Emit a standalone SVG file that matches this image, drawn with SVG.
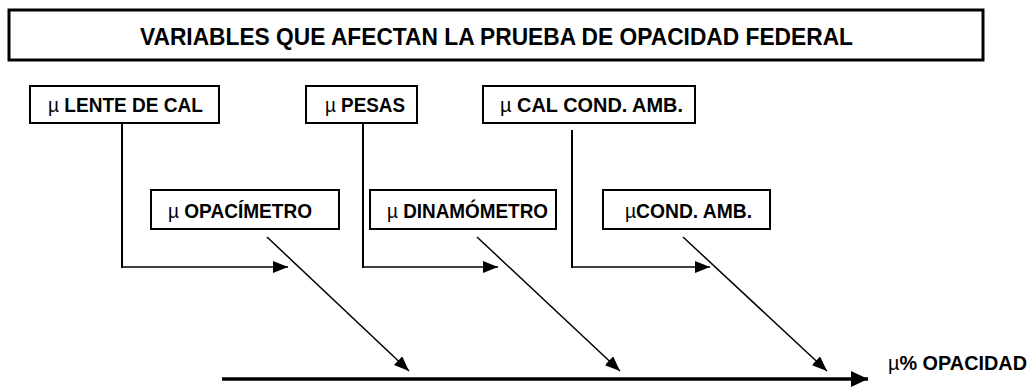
<svg xmlns="http://www.w3.org/2000/svg" width="1031" height="389" viewBox="0 0 1031 389">
<style>
.box{fill:#fff;stroke:#000;stroke-width:2}
.lbl{font-family:"Liberation Sans",Arial,sans-serif;font-weight:bold;font-size:21px;fill:#000}
.mu{font-weight:normal}
.ln{stroke:#000;fill:none;stroke-width:2}
.ar{stroke:#000;fill:none;stroke-width:1.5}
</style>
<defs>
<marker id="ah" markerUnits="userSpaceOnUse" markerWidth="15" markerHeight="12" refX="15" refY="6" orient="auto"><path d="M0,0 L15,6 L0,12 z" fill="#000"/></marker>
<marker id="ahm" markerUnits="userSpaceOnUse" markerWidth="17" markerHeight="16" refX="17" refY="8" orient="auto"><path d="M0,0 L17,8 L0,16 z" fill="#000"/></marker>
</defs>
<g id="title">
<rect x="9" y="10" width="974" height="50" fill="#fff" stroke="#000" stroke-width="3"/>
<text x="140" y="45" class="lbl" style="font-size:23px" textLength="713" lengthAdjust="spacingAndGlyphs">VARIABLES QUE AFECTAN LA PRUEBA DE OPACIDAD FEDERAL</text>
</g>
<g id="lente">
<rect x="30" y="86" width="189" height="37" class="box"/>
<text x="48" y="112" class="lbl" textLength="155" lengthAdjust="spacingAndGlyphs"><tspan class="mu">µ</tspan> LENTE DE CAL</text>
</g>
<g id="pesas">
<rect x="306" y="86" width="111" height="37" class="box"/>
<text x="325" y="112" class="lbl" textLength="80" lengthAdjust="spacingAndGlyphs"><tspan class="mu">µ</tspan> PESAS</text>
</g>
<g id="calcond">
<rect x="483" y="86" width="212" height="37" class="box"/>
<text x="500" y="112" class="lbl" textLength="183" lengthAdjust="spacingAndGlyphs"><tspan class="mu">µ</tspan>  CAL COND. AMB.</text>
</g>
<g id="opacimetro">
<rect x="151" y="190" width="188" height="39" class="box"/>
<text x="168" y="218" class="lbl" textLength="144" lengthAdjust="spacingAndGlyphs"><tspan class="mu">µ</tspan> OPACÍMETRO</text>
</g>
<g id="dinamometro">
<rect x="370" y="190" width="186" height="39" class="box"/>
<text x="387" y="218" class="lbl" textLength="161" lengthAdjust="spacingAndGlyphs"><tspan class="mu">µ</tspan> DINAMÓMETRO</text>
</g>
<g id="condamb">
<rect x="603" y="190" width="167" height="39" class="box"/>
<text x="625" y="218" class="lbl" textLength="127" lengthAdjust="spacingAndGlyphs"><tspan class="mu">µ</tspan>COND. AMB.</text>
</g>
<g id="opacidad">
<text x="888" y="370" class="lbl" style="font-size:20px" textLength="139" lengthAdjust="spacingAndGlyphs"><tspan class="mu">µ</tspan>% OPACIDAD</text>
</g>
<g id="connectors">
<path class="ln" d="M122,123 V268"/>
<path class="ar" d="M122,267 H288" marker-end="url(#ah)"/>
<path class="ln" d="M363,123 V268"/>
<path class="ar" d="M363,267 H498" marker-end="url(#ah)"/>
<path class="ln" d="M572,130 V268"/>
<path class="ar" d="M572,267 H710" marker-end="url(#ah)"/>
<path class="ar" d="M267,237 L409,371" marker-end="url(#ah)"/>
<path class="ar" d="M477,237 L620,371" marker-end="url(#ah)"/>
<path class="ar" d="M683,237 L827,371" marker-end="url(#ah)"/>
<path d="M222,379 H868" stroke="#000" stroke-width="3.5" fill="none" marker-end="url(#ahm)"/>
</g>
</svg>
